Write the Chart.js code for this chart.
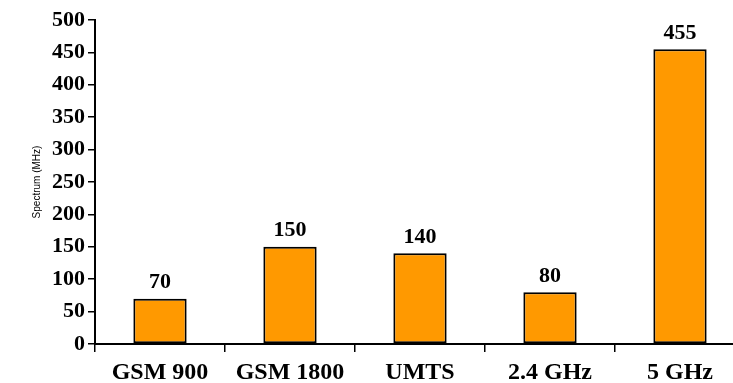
<!DOCTYPE html>
<html>
<head>
<meta charset="utf-8">
<script src="https://cdn.jsdelivr.net/npm/chart.js@4/dist/chart.umd.min.js"></script>
<style>
  html, body { margin: 0; padding: 0; background: #fff; overflow: hidden; }
  #wrap { position: relative; width: 750px; height: 383px; }
</style>
</head>
<body>
<div id="wrap"><canvas id="c" width="750" height="383"></canvas></div>
<script>
// Frequency bands and the spectrum each one offers (MHz)
const bands = ['GSM 900', 'GSM 1800', 'UMTS', '2.4 GHz', '5 GHz'];
const spectrumMHz = [70, 150, 140, 80, 455];
const yTicks = [0, 50, 100, 150, 200, 250, 300, 350, 400, 450, 500];

const serifBold = { family: '"Liberation Serif", "Times New Roman", serif', weight: 'bold' };

// Writes each bar's value just above it
const valueLabels = {
  id: 'valueLabels',
  afterDatasetsDraw(chart) {
    const ctx = chart.ctx;
    const meta = chart.getDatasetMeta(0);
    ctx.save();
    ctx.font = 'bold 22px "Liberation Serif", "Times New Roman", serif';
    ctx.fillStyle = '#000';
    ctx.textAlign = 'center';
    ctx.textBaseline = 'bottom';
    meta.data.forEach((bar, i) => {
      ctx.fillText(String(chart.data.datasets[0].data[i]), bar.x, bar.y - 5);
    });
    ctx.restore();
  }
};

new Chart(document.getElementById('c'), {
  type: 'bar',
  data: {
    labels: bands,
    datasets: [{
      data: spectrumMHz,
      backgroundColor: '#FF9900',
      borderColor: '#000',
      borderWidth: 2,
      borderSkipped: false,
      barPercentage: 0.41,
      categoryPercentage: 1
    }]
  },
  options: {
    responsive: false,
    animation: false,
    layout: { padding: { top: 20, right: 5, left: 31, bottom: 0 } },
    plugins: { legend: { display: false }, tooltip: { enabled: false } },
    scales: {
      x: {
        offset: true,
        grid: { offset: true, drawOnChartArea: false, drawTicks: true, tickLength: 8, color: '#000', lineWidth: 1.5 },
        border: { display: true, color: '#000', width: 2 },
        ticks: { color: '#000', font: { ...serifBold, size: 24 }, padding: 6, maxRotation: 0, autoSkip: false },
        afterFit(s) { s.height = 39; }
      },
      y: {
        min: 0,
        max: 500,
        afterBuildTicks(s) { s.ticks = yTicks.map(v => ({ value: v })); },
        grid: { drawOnChartArea: false, drawTicks: true, tickLength: 7, color: '#000', lineWidth: 1.5 },
        border: { display: true, color: '#000', width: 2 },
        ticks: { color: '#000', font: { ...serifBold, size: 22 }, padding: 3 },
        title: {
          display: true,
          text: 'Spectrum (MHz)',
          color: '#000',
          font: { family: '"Liberation Sans", Arial, sans-serif', size: 10 },
          padding: { top: 0, bottom: 4 }
        },
        afterFit(s) { s.width = 64; }
      }
    }
  },
  plugins: [valueLabels]
});
</script>
</body>
</html>
